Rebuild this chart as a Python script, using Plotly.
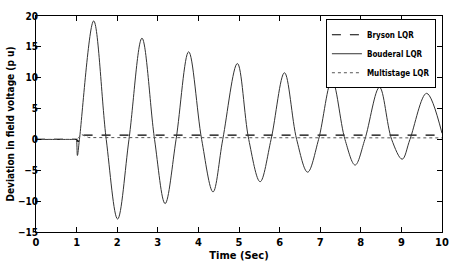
import plotly.graph_objects as go

# Bouderal LQR (solid) - key points
t_boud = [0, 0.5, 0.9, 0.97, 0.99, 1.02, 1.07, 1.42, 1.73, 2.01, 2.29, 2.61, 2.92, 3.18, 3.45, 3.76, 4.08,
          4.36, 4.60, 4.96, 5.24, 5.52, 5.79, 6.12, 6.42, 6.69, 6.96, 7.29, 7.61, 7.86,
          8.10, 8.46, 8.76, 9.02, 9.21, 9.62, 10.0]
v_boud = [0, 0, 0, 0, 0, -2.6, 0, 19.2, 0, -12.9, 0, 16.4, 0, -10.4, 0, 14.2, 0,
          -8.5, 0, 12.3, 0, -6.85, 0, 10.8, 0, -5.3, 0, 9.6, 0, -4.15,
          0, 8.45, 0, -3.2, 0, 7.47, 1.0]

# Bryson LQR (dashed)
t_bry = [0, 1.0, 1.04, 1.1, 1.2, 10.0]
v_bry = [0, 0, -0.4, 0.75, 0.7, 0.7]

# Multistage LQR (dotted)
t_mul = [0, 1.0, 1.05, 1.12, 1.3, 10.0]
v_mul = [0, 0, 0.3, 0.8, 0.3, 0.25]

x_ticks = list(range(0, 11))
y_ticks = [-15, -10, -5, 0, 5, 10, 15, 20]

FONT = "DejaVu Sans Condensed, Liberation Sans Narrow, Arial Narrow, sans-serif"

fig = go.Figure()
fig.add_trace(go.Scatter(x=t_bry, y=v_bry, mode="lines", name="Bryson LQR",
                         line=dict(color="black", width=1.2, dash="dash")))
fig.add_trace(go.Scatter(x=t_boud, y=v_boud, mode="lines", name="Bouderal LQR",
                         line=dict(color="#333333", width=1, shape="spline", smoothing=1.0)))
fig.add_trace(go.Scatter(x=t_mul, y=v_mul, mode="lines", name="Multistage LQR",
                         line=dict(color="#555555", width=1, dash="dot")))

axis_common = dict(showline=True, linecolor="black", linewidth=1, mirror="ticks",
                   ticks="inside", ticklen=5, tickcolor="black", showgrid=False,
                   zeroline=False, automargin=False,
                   tickfont=dict(family=FONT, size=11, color="black", weight="bold"))

fig.update_xaxes(range=[0, 10], tickvals=x_ticks,
                 title=dict(text="Time (Sec)", standoff=2,
                            font=dict(family=FONT, size=11, color="black", weight="bold")),
                 **axis_common)
fig.update_yaxes(range=[-15, 20], tickvals=y_ticks, ticklabelstandoff=-5,
                 title=dict(text="Deviation in field voltage (p u)", standoff=1,
                            font=dict(family=FONT, size=10, color="black", weight="bold")),
                 **axis_common)
fig.update_yaxes(tickfont=dict(size=10))

fig.update_layout(
    width=471, height=265,
    margin=dict(l=36, r=29, t=16, b=33),
    paper_bgcolor="white", plot_bgcolor="white",
    showlegend=True,
    legend=dict(x=0.985, y=0.985, xanchor="right", yanchor="top",
                bgcolor="white", bordercolor="black", borderwidth=1,
                itemwidth=30, tracegroupgap=0,
                font=dict(family=FONT, size=8, color="black", weight="bold")),
)

fig.write_html("out.html")
